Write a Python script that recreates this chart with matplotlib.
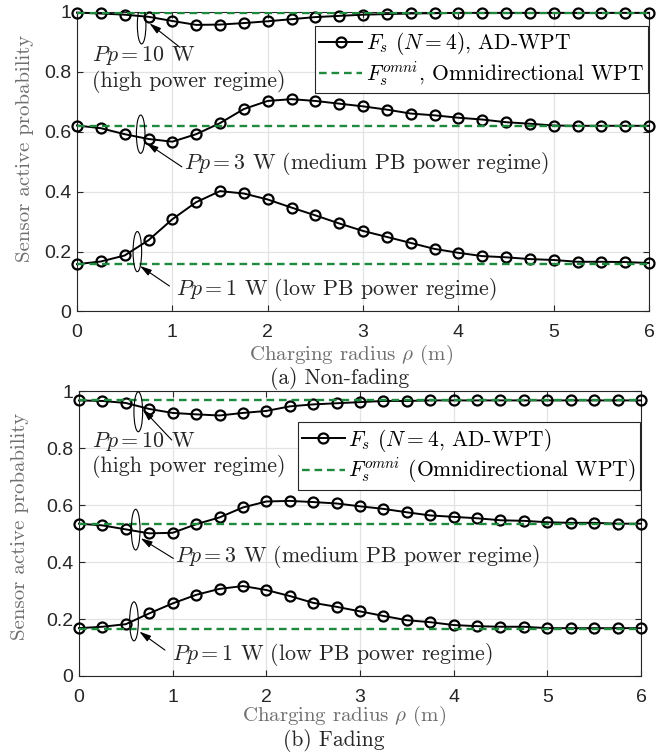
import numpy as np
import matplotlib
matplotlib.use("Agg")
import matplotlib.pyplot as plt
from matplotlib.patches import Ellipse

plt.rcParams['mathtext.fontset'] = 'cm'
plt.rcParams['font.family'] = ['cmr10', 'DejaVu Serif']
plt.rcParams['axes.unicode_minus'] = False
plt.rcParams['lines.scale_dashes'] = False

# ---------------- data ----------------
rho = [0, 0.25, 0.5, 0.75, 1, 1.25, 1.5, 1.75, 2, 2.25, 2.5, 2.75, 3,
       3.25, 3.5, 3.75, 4, 4.25, 4.5, 4.75, 5, 5.25, 5.5, 5.75, 6]

# (a) Non-fading
nf_p10 = [0.998, 0.995, 0.991, 0.984, 0.970, 0.957, 0.958, 0.963, 0.969, 0.976,
          0.983, 0.987, 0.991, 0.993, 0.995, 0.996, 0.997, 0.997, 0.997, 0.997,
          0.997, 0.997, 0.997, 0.997, 0.997]
nf_p3 = [0.621, 0.612, 0.592, 0.576, 0.567, 0.592, 0.629, 0.676, 0.703, 0.709,
         0.703, 0.694, 0.685, 0.674, 0.661, 0.655, 0.647, 0.641, 0.632, 0.627,
         0.621, 0.620, 0.620, 0.620, 0.620]
nf_p1 = [0.158, 0.167, 0.187, 0.238, 0.308, 0.365, 0.402, 0.394, 0.374, 0.347,
         0.321, 0.294, 0.269, 0.249, 0.229, 0.209, 0.196, 0.185, 0.181, 0.175,
         0.172, 0.166, 0.166, 0.165, 0.162]
nf_omni = [0.996, 0.619, 0.160]

# (b) Fading
fd_p10 = [0.968, 0.966, 0.959, 0.938, 0.924, 0.919, 0.915, 0.924, 0.931, 0.947,
          0.954, 0.958, 0.962, 0.966, 0.966, 0.968, 0.968, 0.968, 0.968, 0.968,
          0.968, 0.968, 0.968, 0.968, 0.968]
fd_p3 = [0.535, 0.529, 0.515, 0.501, 0.503, 0.533, 0.557, 0.592, 0.613, 0.615,
         0.611, 0.606, 0.596, 0.587, 0.575, 0.564, 0.559, 0.554, 0.547, 0.545,
         0.540, 0.538, 0.538, 0.535, 0.535]
fd_p1 = [0.168, 0.173, 0.182, 0.220, 0.255, 0.285, 0.306, 0.316, 0.302, 0.281,
         0.257, 0.243, 0.227, 0.211, 0.196, 0.189, 0.179, 0.175, 0.173, 0.173,
         0.168, 0.168, 0.168, 0.168, 0.168]
fd_omni = [0.968, 0.534, 0.166]

xticks = [0, 1, 2, 3, 4, 5, 6]
xticklabels = ['0', '1', '2', '3', '4', '5', '6']
yticks = [0, 0.2, 0.4, 0.6, 0.8, 1.0]
yticklabels = ['0', '0.2', '0.4', '0.6', '0.8', '1']

ylabel = 'Sensor active probability'
xlabel = r'Charging radius $\rho$ (m)'
captions = ['(a) Non-fading', '(b) Fading']
legend_a = [r'$F_s$ ($N=4$), AD-WPT', r'$F_s^{omni}$, Omnidirectional WPT']
legend_b = [r'$F_s$ ($N=4$, AD-WPT)', r'$F_s^{omni}$ (Omnidirectional WPT)']
power_labels = [r'$Pp=10$ W', r'$Pp=3$ W (medium PB power regime)',
                r'$Pp=1$ W (low PB power regime)']
regime_high = '(high power regime)'

GREEN = '#1e8a3e'
DARK = '#262626'
GRAY_LABEL = '#6e6e6e'
FS_ANN = 15.8
FS_LEG = 15.5
FS_LAB = 15
FS_CAP = 15.5
FS_TICK = 14

fig = plt.figure(figsize=(6.68, 7.56), dpi=100)
ax1 = fig.add_axes([77 / 668, 1 - 311.5 / 756, (649 - 77) / 668, (311.5 - 12) / 756])
ax2 = fig.add_axes([79 / 668, 1 - 676 / 756, (641 - 79) / 668, (676 - 391.3) / 756])


def style_axes(ax):
    ax.set_xlim(0, 6)
    ax.set_ylim(0, 1)
    ax.set_xticks(xticks)
    ax.set_xticklabels(xticklabels, family='Liberation Sans', fontsize=FS_TICK, color=DARK)
    ax.set_yticks(yticks)
    ax.set_yticklabels(yticklabels, family='Liberation Sans', fontsize=FS_TICK, color=DARK)
    ax.tick_params(direction='in', length=4, width=0.8, color=DARK,
                   top=True, right=True)
    ax.tick_params(axis='x', pad=9)
    ax.tick_params(axis='y', pad=4)
    ax.grid(True, color='#e3e3e3', linewidth=0.9)
    ax.set_axisbelow(True)
    for s in ax.spines.values():
        s.set_color(DARK)
        s.set_linewidth(0.8)


def draw_curves(ax, curves, omni):
    h1 = h2 = None
    for c, o in zip(curves, omni):
        h1, = ax.plot(rho, c, '-o', color='k', lw=1.4, ms=7.2, mew=1.6,
                      mfc='none', mec='k', clip_on=False, zorder=3)
        h2, = ax.plot([rho[0], rho[-1]], [o, o], color=GREEN, lw=1.7,
                      dashes=(5.5, 3.5), zorder=4)
    return h1, h2


def annot(ax, ell, tip, tail, text, text_xy):
    ax.add_patch(Ellipse(ell[:2], ell[2], ell[3], fill=False, lw=0.8,
                         ec='k', zorder=5))
    ax.annotate('', xy=tip, xytext=tail,
                arrowprops=dict(arrowstyle='-|>,head_length=0.7,head_width=0.2',
                                lw=0.8, color='k', shrinkA=0, shrinkB=0),
                zorder=6)
    ax.text(text_xy[0], text_xy[1], text, fontsize=FS_ANN, color=DARK,
            ha='left', va='center', zorder=6)


def add_legend(ax, h, labels, anchor):
    leg = ax.legend(h, labels, loc='upper right', bbox_to_anchor=anchor,
                    fontsize=FS_LEG, numpoints=1, frameon=True, fancybox=False,
                    edgecolor=DARK, framealpha=1, borderpad=0.2,
                    handlelength=2.0, handletextpad=0.15, labelspacing=0.1,
                    borderaxespad=0)
    leg.get_frame().set_linewidth(0.8)


# ---------- (a) ----------
style_axes(ax1)
h1, h2 = draw_curves(ax1, [nf_p10, nf_p3, nf_p1], nf_omni)
add_legend(ax1, [h1, h2], legend_a, (0.998, 0.953))
annot(ax1, (0.678, 0.957, 0.09, 0.127), (0.76, 0.962), (1.08, 0.882),
      power_labels[0], (0.157, 0.856))
ax1.text(0.157, 0.767, regime_high, fontsize=FS_ANN, color=DARK, ha='left', va='center')
annot(ax1, (0.668, 0.592, 0.09, 0.128), (0.73, 0.562), (1.10, 0.483),
      power_labels[1], (1.126, 0.495))
annot(ax1, (0.633, 0.200, 0.09, 0.134), (0.66, 0.152), (0.97, 0.085),
      power_labels[2], (1.04, 0.074))
ax1.set_ylabel(ylabel, fontsize=FS_LAB, color=GRAY_LABEL, va='center')
ax1.yaxis.set_label_coords(-0.091, 0.546)
ax1.set_xlabel(xlabel, fontsize=FS_LAB, color=GRAY_LABEL, va='center')
ax1.xaxis.set_label_coords(0.479, -0.145)

# ---------- (b) ----------
style_axes(ax2)
h1, h2 = draw_curves(ax2, [fd_p10, fd_p3, fd_p1], fd_omni)
add_legend(ax2, [h1, h2], legend_b, (0.998, 0.891))
annot(ax2, (0.633, 0.928, 0.093, 0.14), (0.68, 0.937), (0.99, 0.829),
      power_labels[0], (0.135, 0.825))
ax2.text(0.135, 0.735, regime_high, fontsize=FS_ANN, color=DARK, ha='left', va='center')
annot(ax2, (0.605, 0.514, 0.093, 0.143), (0.658, 0.484), (1.007, 0.413),
      power_labels[1], (1.025, 0.419))
annot(ax2, (0.587, 0.192, 0.093, 0.137), (0.644, 0.156), (0.918, 0.091),
      power_labels[2], (0.99, 0.077))
ax2.set_ylabel(ylabel, fontsize=FS_LAB, color=GRAY_LABEL, va='center')
ax2.yaxis.set_label_coords(-0.105, 0.525)
ax2.set_xlabel(xlabel, fontsize=FS_LAB, color=GRAY_LABEL, va='center')
ax2.xaxis.set_label_coords(0.4715, -0.142)

fig.text(340 / 668, 1 - 378 / 756, captions[0], fontsize=FS_CAP, color=DARK,
         ha='center', va='center')
fig.text(334 / 668, 1 - 740 / 756, captions[1], fontsize=FS_CAP, color=DARK,
         ha='center', va='center')

fig.savefig('out.png', dpi=100)
